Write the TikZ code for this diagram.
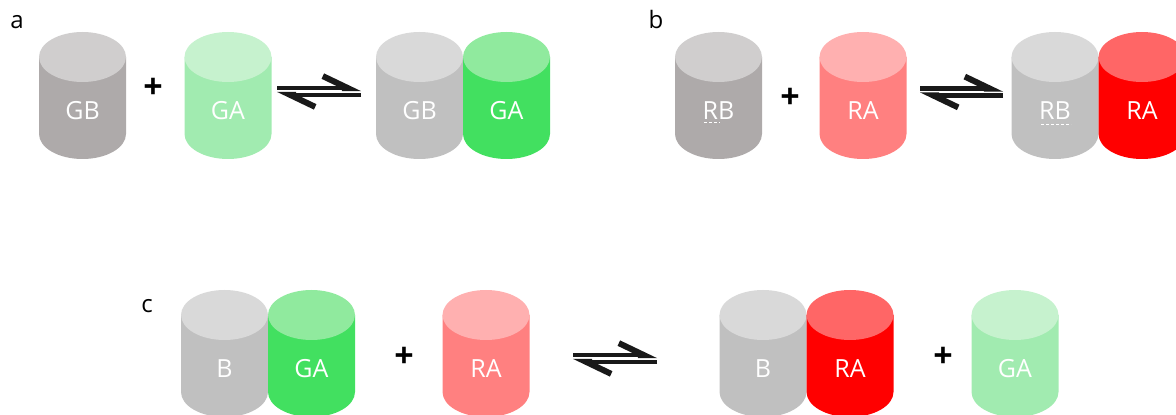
\documentclass[tikz,border=0pt]{standalone}
\usepackage{fontspec}
\setmainfont{Open Sans}
\usetikzlibrary{arrows.meta}

\definecolor{stonetop}{HTML}{D0CECE}
\definecolor{stoneside}{HTML}{AEAAAA}
\definecolor{greytop}{HTML}{D9D9D9}
\definecolor{greyside}{HTML}{C0C0C0}
\definecolor{mintop}{HTML}{C6F2CE}
\definecolor{minside}{HTML}{A1EBB0}
\definecolor{greentop}{HTML}{90EA9E}
\definecolor{greenside}{HTML}{42E060}
\definecolor{pinktop}{HTML}{FFB0B0}
\definecolor{pinkside}{HTML}{FF8080}
\definecolor{redtop}{HTML}{FF6666}
\definecolor{redside}{HTML}{FF0000}

\begin{document}
\begin{tikzpicture}
  [x=1pt,y=1pt,
  pics/cyl/.style n args={3}{code={
    \fill [#2] (-43.5,38.5) -- (-43.5,-38.5)
      arc [start angle=180,end angle=360,x radius=43.5,y radius=25]
      -- (43.5,38.5) -- cycle;
    \fill [#1] (0,38.5) ellipse [x radius=43.5,y radius=25];
    \node (-t) [txt] at (0,-15) {#3};
  }},
  txt/.style={text=white,inner sep=0pt,font=\fontsize{25}{28}\selectfont},
  panel/.style={anchor=base,inner sep=0pt,font=\fontsize{24}{28}\selectfont},
  plus/.style={inner sep=0pt,font=\fontsize{34}{36}\selectfont\bfseries},
  fwd/.style={line width=4.5pt,color=black!90,
    -{Straight Barb[left,length=25pt,width=24pt,line width=6pt]}},
  proof/.style={white,line width=1.3pt,dash pattern=on 3pt off 2pt}]

  \useasboundingbox (0,0) rectangle (1176,415);

  % a
  \node (la) [panel] at (17,386) {a};
  \pic (a1) at (82.5,319.5) {cyl={stonetop}{stoneside}{GB}};
  \pic (a2) at (228,319.5) {cyl={mintop}{minside}{GA}};
  \pic (a3) at (419.5,319.5) {cyl={greytop}{greyside}{GB}};
  \pic (a4) at (506.5,319.5) {cyl={greentop}{greenside}{GA}};
  \node (pa) [plus] at (153,327) {+};
  \coordinate (ea1) at (277,323.5);
  \coordinate (ea2) at (361,323.5);
  \draw [fwd] ([yshift=3.4pt]ea1) -- ([yshift=3.4pt]ea2);
  \draw [fwd] ([yshift=-3.4pt]ea2) -- ([yshift=-3.4pt]ea1);

  % b
  \node (lb) [panel] at (656,386) {b};
  \pic (b1) at (718.5,319.5) {cyl={stonetop}{stoneside}{RB}};
  \pic (b2) at (863,319.5) {cyl={pinktop}{pinkside}{RA}};
  \pic (b3) at (1055,319.5) {cyl={greytop}{greyside}{RB}};
  \pic (b4) at (1142,319.5) {cyl={redtop}{redside}{RA}};
  \node (pb) [plus] at (790,317) {+};
  \coordinate (eb1) at (920,323);
  \coordinate (eb2) at (1003,323);
  \draw [fwd] ([yshift=3.4pt]eb1) -- ([yshift=3.4pt]eb2);
  \draw [fwd] ([yshift=-3.4pt]eb2) -- ([yshift=-3.4pt]eb1);
  \draw [proof] ([xshift=2pt,yshift=-3pt]b1-t.base west) -- ++(16,0);
  \draw [proof] ([xshift=2pt,yshift=-5pt]b3-t.base west) -- ++(30,0);

  % c
  \node (lc) [panel] at (147,102) {c};
  \pic (c1) at (224.5,61.5) {cyl={greytop}{greyside}{B}};
  \pic (c2) at (311.5,61.5) {cyl={greentop}{greenside}{GA}};
  \pic (c3) at (486,61.5) {cyl={pinktop}{pinkside}{RA}};
  \pic (c4) at (763,61.5) {cyl={greytop}{greyside}{B}};
  \pic (c5) at (850,61.5) {cyl={redtop}{redside}{RA}};
  \pic (c6) at (1015,61.5) {cyl={mintop}{minside}{GA}};
  \node (pc1) [plus] at (404,58) {+};
  \node (pc2) [plus] at (943,58) {+};
  \coordinate (ec1) at (573,56.5);
  \coordinate (ec2) at (657,56.5);
  \draw [fwd] ([yshift=3.4pt]ec1) -- ([yshift=3.4pt]ec2);
  \draw [fwd] ([yshift=-3.4pt]ec2) -- ([yshift=-3.4pt]ec1);

\end{tikzpicture}
\end{document}
